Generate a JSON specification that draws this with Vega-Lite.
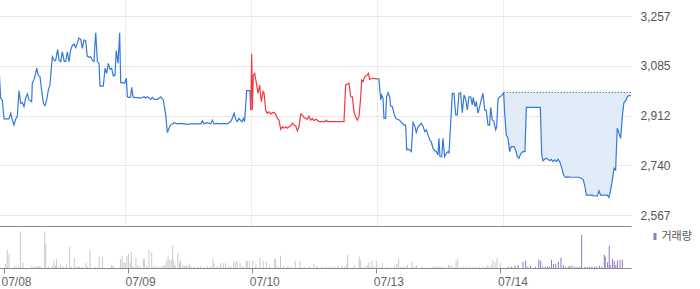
{
"$schema": "https://vega.github.io/schema/vega-lite/v6.json",
"padding": {"left": -4, "top": 0, "right": 0, "bottom": 0},
"spacing": 0,
"background": "white",
"resolve": {"scale": {"color": "independent", "x": "independent", "y": "independent"}, "legend": {"color": "independent"}, "axis": {"x": "independent", "y": "independent"}},
"config": {"view": {"stroke": null}, "font": "Liberation Sans"},
"datasets": {
"price": [
{"t":0,"p":3081,"s":"a"},{"t":0.013,"p":2972,"s":"a"},{"t":0.026,"p":2966,"s":"a"},{"t":0.040,"p":2900,"s":"a"},{"t":0.079,"p":2900,"s":"a"},{"t":0.093,"p":2920,"s":"a"},{"t":0.106,"p":2896,"s":"a"},{"t":0.119,"p":2879,"s":"a"},{"t":0.132,"p":2899,"s":"a"},{"t":0.145,"p":2908,"s":"a"},{"t":0.159,"p":2998,"s":"a"},{"t":0.172,"p":2954,"s":"a"},{"t":0.185,"p":2957,"s":"a"},{"t":0.198,"p":2943,"s":"a"},{"t":0.211,"p":2972,"s":"a"},{"t":0.225,"p":2987,"s":"a"},{"t":0.238,"p":2966,"s":"a"},{"t":0.251,"p":2963,"s":"a"},{"t":0.259,"p":2960,"s":"a"},{"t":0.264,"p":3024,"s":"a"},{"t":0.278,"p":3037,"s":"a"},{"t":0.291,"p":3058,"s":"a"},{"t":0.299,"p":3076,"s":"a"},{"t":0.312,"p":3050,"s":"a"},{"t":0.325,"p":3047,"s":"a"},{"t":0.338,"p":3000,"s":"a"},{"t":0.352,"p":2954,"s":"a"},{"t":0.365,"p":2946,"s":"a"},{"t":0.378,"p":2966,"s":"a"},{"t":0.391,"p":3000,"s":"a"},{"t":0.404,"p":3018,"s":"a"},{"t":0.423,"p":3116,"s":"a"},{"t":0.436,"p":3104,"s":"a"},{"t":0.449,"p":3102,"s":"a"},{"t":0.465,"p":3141,"s":"a"},{"t":0.476,"p":3104,"s":"a"},{"t":0.489,"p":3099,"s":"a"},{"t":0.502,"p":3133,"s":"a"},{"t":0.518,"p":3099,"s":"a"},{"t":0.529,"p":3100,"s":"a"},{"t":0.542,"p":3133,"s":"a"},{"t":0.555,"p":3099,"s":"a"},{"t":0.568,"p":3139,"s":"a"},{"t":0.582,"p":3155,"s":"a"},{"t":0.595,"p":3160,"s":"a"},{"t":0.608,"p":3147,"s":"a"},{"t":0.621,"p":3162,"s":"a"},{"t":0.634,"p":3180,"s":"a"},{"t":0.648,"p":3177,"s":"a"},{"t":0.661,"p":3145,"s":"a"},{"t":0.674,"p":3174,"s":"a"},{"t":0.687,"p":3171,"s":"a"},{"t":0.700,"p":3118,"s":"a"},{"t":0.714,"p":3114,"s":"a"},{"t":0.727,"p":3116,"s":"a"},{"t":0.740,"p":3104,"s":"a"},{"t":0.753,"p":3099,"s":"a"},{"t":0.767,"p":3199,"s":"a"},{"t":0.780,"p":3099,"s":"a"},{"t":0.793,"p":3093,"s":"a"},{"t":0.801,"p":3014,"s":"a"},{"t":0.827,"p":3014,"s":"a"},{"t":0.841,"p":3076,"s":"a"},{"t":0.854,"p":3058,"s":"a"},{"t":0.867,"p":3093,"s":"a"},{"t":0.880,"p":3072,"s":"a"},{"t":0.893,"p":3076,"s":"a"},{"t":0.907,"p":3049,"s":"a"},{"t":0.920,"p":3052,"s":"a"},{"t":0.930,"p":3137,"s":"a"},{"t":0.944,"p":3093,"s":"a"},{"t":0.957,"p":3199,"s":"a"},{"t":0.965,"p":3026,"s":"a"},{"t":0.983,"p":3026,"s":"a"},{"t":0.997,"p":3024,"s":"a"},{"t":1.010,"p":3041,"s":"a"},{"t":1.018,"p":2977,"s":"a"},{"t":1.031,"p":2974,"s":"a"},{"t":1.044,"p":2977,"s":"a"},{"t":1.052,"p":3010,"s":"a"},{"t":1.063,"p":2977,"s":"a"},{"t":1.076,"p":2974,"s":"a"},{"t":1.097,"p":2974,"s":"a"},{"t":1.124,"p":2972,"s":"a"},{"t":1.150,"p":2977,"s":"a"},{"t":1.163,"p":2972,"s":"a"},{"t":1.176,"p":2977,"s":"a"},{"t":1.190,"p":2974,"s":"a"},{"t":1.203,"p":2968,"s":"a"},{"t":1.216,"p":2975,"s":"a"},{"t":1.229,"p":2968,"s":"a"},{"t":1.255,"p":2968,"s":"a"},{"t":1.269,"p":2972,"s":"a"},{"t":1.282,"p":2977,"s":"a"},{"t":1.303,"p":2966,"s":"a"},{"t":1.322,"p":2914,"s":"a"},{"t":1.335,"p":2853,"s":"a"},{"t":1.348,"p":2868,"s":"a"},{"t":1.362,"p":2879,"s":"a"},{"t":1.374,"p":2883,"s":"a"},{"t":1.388,"p":2887,"s":"a"},{"t":1.414,"p":2883,"s":"a"},{"t":1.441,"p":2885,"s":"a"},{"t":1.467,"p":2883,"s":"a"},{"t":1.493,"p":2881,"s":"a"},{"t":1.520,"p":2883,"s":"a"},{"t":1.560,"p":2883,"s":"a"},{"t":1.600,"p":2883,"s":"a"},{"t":1.612,"p":2894,"s":"a"},{"t":1.626,"p":2883,"s":"a"},{"t":1.652,"p":2887,"s":"a"},{"t":1.679,"p":2883,"s":"a"},{"t":1.692,"p":2896,"s":"a"},{"t":1.705,"p":2883,"s":"a"},{"t":1.731,"p":2885,"s":"a"},{"t":1.758,"p":2883,"s":"a"},{"t":1.784,"p":2885,"s":"a"},{"t":1.810,"p":2883,"s":"a"},{"t":1.837,"p":2891,"s":"a"},{"t":1.850,"p":2902,"s":"a"},{"t":1.864,"p":2920,"s":"a"},{"t":1.877,"p":2899,"s":"a"},{"t":1.890,"p":2891,"s":"a"},{"t":1.903,"p":2902,"s":"a"},{"t":1.917,"p":2894,"s":"a"},{"t":1.929,"p":2891,"s":"a"},{"t":1.937,"p":2902,"s":"a"},{"t":1.948,"p":2891,"s":"a"},{"t":1.964,"p":2998,"s":"a"},{"t":1.990,"p":2998,"s":"a"},{"t":1.996,"p":2931,"s":"a"},
{"t":1.996,"p":2931,"s":"b"},{"t":2.004,"p":3125,"s":"b"},{"t":2.009,"p":2931,"s":"b"},{"t":2.017,"p":3052,"s":"b"},{"t":2.028,"p":3058,"s":"b"},{"t":2.041,"p":3024,"s":"b"},{"t":2.054,"p":2989,"s":"b"},{"t":2.067,"p":3018,"s":"b"},{"t":2.080,"p":2960,"s":"b"},{"t":2.094,"p":2995,"s":"b"},{"t":2.102,"p":2989,"s":"b"},{"t":2.115,"p":2931,"s":"b"},{"t":2.128,"p":2920,"s":"b"},{"t":2.141,"p":2925,"s":"b"},{"t":2.155,"p":2917,"s":"b"},{"t":2.167,"p":2922,"s":"b"},{"t":2.181,"p":2923,"s":"b"},{"t":2.194,"p":2917,"s":"b"},{"t":2.207,"p":2902,"s":"b"},{"t":2.220,"p":2896,"s":"b"},{"t":2.234,"p":2864,"s":"b"},{"t":2.247,"p":2873,"s":"b"},{"t":2.260,"p":2868,"s":"b"},{"t":2.274,"p":2873,"s":"b"},{"t":2.286,"p":2868,"s":"b"},{"t":2.300,"p":2873,"s":"b"},{"t":2.313,"p":2876,"s":"b"},{"t":2.326,"p":2885,"s":"b"},{"t":2.339,"p":2879,"s":"b"},{"t":2.353,"p":2876,"s":"b"},{"t":2.366,"p":2859,"s":"b"},{"t":2.379,"p":2873,"s":"b"},{"t":2.393,"p":2917,"s":"b"},{"t":2.405,"p":2914,"s":"b"},{"t":2.419,"p":2905,"s":"b"},{"t":2.432,"p":2902,"s":"b"},{"t":2.445,"p":2899,"s":"b"},{"t":2.458,"p":2910,"s":"b"},{"t":2.472,"p":2896,"s":"b"},{"t":2.485,"p":2902,"s":"b"},{"t":2.498,"p":2894,"s":"b"},{"t":2.511,"p":2899,"s":"b"},{"t":2.524,"p":2896,"s":"b"},{"t":2.538,"p":2891,"s":"b"},{"t":2.585,"p":2891,"s":"b"},{"t":2.596,"p":2896,"s":"b"},{"t":2.606,"p":2891,"s":"b"},{"t":2.736,"p":2891,"s":"b"},{"t":2.749,"p":3018,"s":"b"},{"t":2.776,"p":3024,"s":"b"},{"t":2.789,"p":2977,"s":"b"},{"t":2.802,"p":2977,"s":"b"},{"t":2.815,"p":2925,"s":"b"},{"t":2.828,"p":2908,"s":"b"},{"t":2.842,"p":2896,"s":"b"},{"t":2.855,"p":2908,"s":"b"},{"t":2.868,"p":2972,"s":"b"},{"t":2.876,"p":3035,"s":"b"},{"t":2.887,"p":3029,"s":"b"},{"t":2.895,"p":3041,"s":"b"},{"t":2.908,"p":3049,"s":"b"},{"t":2.921,"p":3052,"s":"b"},{"t":2.929,"p":3058,"s":"b"},{"t":2.940,"p":3037,"s":"b"},{"t":2.961,"p":3041,"s":"b"},{"t":3.000,"p":3039,"s":"b"},
{"t":3.000,"p":3039,"s":"c"},{"t":3.013,"p":3039,"s":"c"},{"t":3.027,"p":2966,"s":"c"},{"t":3.035,"p":2983,"s":"c"},{"t":3.045,"p":2972,"s":"c"},{"t":3.053,"p":2902,"s":"c"},{"t":3.066,"p":2902,"s":"c"},{"t":3.074,"p":2977,"s":"c"},{"t":3.085,"p":2991,"s":"c"},{"t":3.098,"p":2977,"s":"c"},{"t":3.106,"p":2945,"s":"c"},{"t":3.119,"p":2943,"s":"c"},{"t":3.132,"p":2920,"s":"c"},{"t":3.146,"p":2902,"s":"c"},{"t":3.159,"p":2899,"s":"c"},{"t":3.172,"p":2897,"s":"c"},{"t":3.186,"p":2891,"s":"c"},{"t":3.198,"p":2885,"s":"c"},{"t":3.212,"p":2879,"s":"c"},{"t":3.225,"p":2879,"s":"c"},{"t":3.233,"p":2793,"s":"c"},{"t":3.243,"p":2795,"s":"c"},{"t":3.257,"p":2793,"s":"c"},{"t":3.270,"p":2787,"s":"c"},{"t":3.283,"p":2888,"s":"c"},{"t":3.297,"p":2876,"s":"c"},{"t":3.309,"p":2853,"s":"c"},{"t":3.323,"p":2873,"s":"c"},{"t":3.336,"p":2879,"s":"c"},{"t":3.349,"p":2885,"s":"c"},{"t":3.362,"p":2876,"s":"c"},{"t":3.376,"p":2856,"s":"c"},{"t":3.389,"p":2862,"s":"c"},{"t":3.402,"p":2845,"s":"c"},{"t":3.416,"p":2827,"s":"c"},{"t":3.428,"p":2821,"s":"c"},{"t":3.442,"p":2798,"s":"c"},{"t":3.455,"p":2790,"s":"c"},{"t":3.468,"p":2787,"s":"c"},{"t":3.481,"p":2775,"s":"c"},{"t":3.489,"p":2833,"s":"c"},{"t":3.497,"p":2769,"s":"c"},{"t":3.511,"p":2769,"s":"c"},{"t":3.521,"p":2833,"s":"c"},{"t":3.534,"p":2769,"s":"c"},{"t":3.547,"p":2781,"s":"c"},{"t":3.561,"p":2787,"s":"c"},{"t":3.569,"p":2783,"s":"c"},{"t":3.582,"p":2885,"s":"c"},{"t":3.595,"p":2989,"s":"c"},{"t":3.608,"p":2989,"s":"c"},{"t":3.622,"p":2914,"s":"c"},{"t":3.634,"p":2914,"s":"c"},{"t":3.648,"p":2989,"s":"c"},{"t":3.661,"p":2991,"s":"c"},{"t":3.674,"p":2922,"s":"c"},{"t":3.688,"p":2983,"s":"c"},{"t":3.701,"p":2968,"s":"c"},{"t":3.714,"p":2931,"s":"c"},{"t":3.727,"p":2977,"s":"c"},{"t":3.741,"p":2977,"s":"c"},{"t":3.753,"p":2949,"s":"c"},{"t":3.761,"p":2975,"s":"c"},{"t":3.775,"p":2943,"s":"c"},{"t":3.785,"p":2960,"s":"c"},{"t":3.799,"p":2920,"s":"c"},{"t":3.812,"p":2943,"s":"c"},{"t":3.825,"p":2968,"s":"c"},{"t":3.838,"p":2989,"s":"c"},{"t":3.852,"p":2931,"s":"c"},{"t":3.864,"p":2931,"s":"c"},{"t":3.878,"p":2879,"s":"c"},{"t":3.891,"p":2879,"s":"c"},{"t":3.899,"p":2940,"s":"c"},{"t":3.912,"p":2897,"s":"c"},{"t":3.925,"p":2891,"s":"c"},{"t":3.939,"p":2862,"s":"c"},{"t":3.947,"p":2873,"s":"c"},{"t":3.957,"p":2968,"s":"c"},{"t":3.971,"p":2977,"s":"c"},{"t":3.983,"p":2980,"s":"c"},{"t":3.999,"p":2989,"s":"c"},{"t":4.002,"p":2992,"s":"c"},{"t":4.010,"p":2920,"s":"c"},{"t":4.023,"p":2844,"s":"c"},{"t":4.036,"p":2833,"s":"c"},{"t":4.050,"p":2787,"s":"c"},{"t":4.063,"p":2804,"s":"c"},{"t":4.084,"p":2804,"s":"c"},{"t":4.098,"p":2792,"s":"c"},{"t":4.110,"p":2769,"s":"c"},{"t":4.124,"p":2764,"s":"c"},{"t":4.137,"p":2779,"s":"c"},{"t":4.155,"p":2787,"s":"c"},{"t":4.171,"p":2787,"s":"c"},{"t":4.182,"p":2940,"s":"c"},{"t":4.293,"p":2940,"s":"c"},{"t":4.304,"p":2775,"s":"c"},{"t":4.314,"p":2755,"s":"c"},{"t":4.327,"p":2760,"s":"c"},{"t":4.341,"p":2764,"s":"c"},{"t":4.354,"p":2760,"s":"c"},{"t":4.367,"p":2755,"s":"c"},{"t":4.380,"p":2760,"s":"c"},{"t":4.393,"p":2752,"s":"c"},{"t":4.407,"p":2758,"s":"c"},{"t":4.420,"p":2752,"s":"c"},{"t":4.433,"p":2760,"s":"c"},{"t":4.446,"p":2752,"s":"c"},{"t":4.460,"p":2735,"s":"c"},{"t":4.473,"p":2712,"s":"c"},{"t":4.486,"p":2700,"s":"c"},{"t":4.499,"p":2697,"s":"c"},{"t":4.512,"p":2700,"s":"c"},{"t":4.526,"p":2698,"s":"c"},{"t":4.600,"p":2698,"s":"c"},{"t":4.621,"p":2694,"s":"c"},{"t":4.634,"p":2688,"s":"c"},{"t":4.647,"p":2665,"s":"c"},{"t":4.658,"p":2636,"s":"c"},{"t":4.705,"p":2636,"s":"c"},{"t":4.719,"p":2633,"s":"c"},{"t":4.745,"p":2633,"s":"c"},{"t":4.758,"p":2651,"s":"c"},{"t":4.771,"p":2636,"s":"c"},{"t":4.824,"p":2636,"s":"c"},{"t":4.837,"p":2628,"s":"c"},{"t":4.851,"p":2654,"s":"c"},{"t":4.864,"p":2688,"s":"c"},{"t":4.877,"p":2729,"s":"c"},{"t":4.890,"p":2723,"s":"c"},{"t":4.903,"p":2868,"s":"c"},{"t":4.917,"p":2850,"s":"c"},{"t":4.930,"p":2833,"s":"c"},{"t":4.943,"p":2908,"s":"c"},{"t":4.956,"p":2957,"s":"c"},{"t":4.970,"p":2963,"s":"c"},{"t":4.983,"p":2977,"s":"c"},{"t":4.996,"p":2981,"s":"c"},{"t":5.012,"p":2981,"s":"c"}
],
"vol": [
{"t":0.013,"v":400,"c":"이전"},{"t":0.026,"v":1830,"c":"이전"},{"t":0.040,"v":1400,"c":"이전"},{"t":0.085,"v":230,"c":"이전"},{"t":0.100,"v":130,"c":"이전"},{"t":0.119,"v":130,"c":"이전"},{"t":0.132,"v":3630,"c":"이전"},{"t":0.153,"v":500,"c":"이전"},{"t":0.225,"v":230,"c":"이전"},{"t":0.243,"v":170,"c":"이전"},{"t":0.264,"v":170,"c":"이전"},{"t":0.278,"v":230,"c":"이전"},{"t":0.291,"v":170,"c":"이전"},{"t":0.328,"v":3630,"c":"이전"},{"t":0.336,"v":2400,"c":"이전"},{"t":0.357,"v":170,"c":"이전"},{"t":0.391,"v":170,"c":"이전"},{"t":0.402,"v":730,"c":"이전"},{"t":0.415,"v":230,"c":"이전"},{"t":0.423,"v":900,"c":"이전"},{"t":0.436,"v":130,"c":"이전"},{"t":0.455,"v":300,"c":"이전"},{"t":0.476,"v":170,"c":"이전"},{"t":0.502,"v":330,"c":"이전"},{"t":0.529,"v":2130,"c":"이전"},{"t":0.542,"v":130,"c":"이전"},{"t":0.566,"v":1030,"c":"이전"},{"t":0.582,"v":170,"c":"이전"},{"t":0.595,"v":130,"c":"이전"},{"t":0.608,"v":130,"c":"이전"},{"t":0.629,"v":130,"c":"이전"},{"t":0.661,"v":530,"c":"이전"},{"t":0.669,"v":170,"c":"이전"},{"t":0.693,"v":1830,"c":"이전"},{"t":0.740,"v":130,"c":"이전"},{"t":0.767,"v":1100,"c":"이전"},{"t":0.793,"v":1100,"c":"이전"},{"t":0.867,"v":300,"c":"이전"},{"t":0.878,"v":230,"c":"이전"},{"t":0.938,"v":900,"c":"이전"},{"t":0.952,"v":1230,"c":"이전"},{"t":0.965,"v":630,"c":"이전"},{"t":0.978,"v":500,"c":"이전"},{"t":0.991,"v":1230,"c":"이전"},{"t":1.004,"v":1430,"c":"이전"},{"t":1.018,"v":570,"c":"이전"},{"t":1.026,"v":1630,"c":"이전"},{"t":1.039,"v":230,"c":"이전"},{"t":1.063,"v":1030,"c":"이전"},{"t":1.079,"v":300,"c":"이전"},{"t":1.097,"v":170,"c":"이전"},{"t":1.123,"v":900,"c":"이전"},{"t":1.131,"v":900,"c":"이전"},{"t":1.150,"v":230,"c":"이전"},{"t":1.168,"v":1830,"c":"이전"},{"t":1.190,"v":1570,"c":"이전"},{"t":1.203,"v":170,"c":"이전"},{"t":1.221,"v":230,"c":"이전"},{"t":1.242,"v":170,"c":"이전"},{"t":1.264,"v":170,"c":"이전"},{"t":1.282,"v":230,"c":"이전"},{"t":1.295,"v":300,"c":"이전"},{"t":1.308,"v":730,"c":"이전"},{"t":1.322,"v":1170,"c":"이전"},{"t":1.335,"v":800,"c":"이전"},{"t":1.348,"v":800,"c":"이전"},{"t":1.359,"v":2230,"c":"이전"},{"t":1.369,"v":730,"c":"이전"},{"t":1.380,"v":300,"c":"이전"},{"t":1.401,"v":1530,"c":"이전"},{"t":1.414,"v":500,"c":"이전"},{"t":1.422,"v":830,"c":"이전"},{"t":1.441,"v":300,"c":"이전"},{"t":1.454,"v":170,"c":"이전"},{"t":1.467,"v":300,"c":"이전"},{"t":1.480,"v":170,"c":"이전"},{"t":1.494,"v":430,"c":"이전"},{"t":1.507,"v":170,"c":"이전"},{"t":1.533,"v":170,"c":"이전"},{"t":1.560,"v":130,"c":"이전"},{"t":1.586,"v":170,"c":"이전"},{"t":1.613,"v":130,"c":"이전"},{"t":1.639,"v":170,"c":"이전"},{"t":1.665,"v":130,"c":"이전"},{"t":1.684,"v":930,"c":"이전"},{"t":1.692,"v":470,"c":"이전"},{"t":1.718,"v":170,"c":"이전"},{"t":1.745,"v":470,"c":"이전"},{"t":1.766,"v":470,"c":"이전"},{"t":1.784,"v":470,"c":"이전"},{"t":1.811,"v":170,"c":"이전"},{"t":1.829,"v":170,"c":"이전"},{"t":1.850,"v":730,"c":"이전"},{"t":1.864,"v":570,"c":"이전"},{"t":1.877,"v":730,"c":"이전"},{"t":1.903,"v":500,"c":"이전"},{"t":1.924,"v":170,"c":"이전"},{"t":1.951,"v":730,"c":"이전"},{"t":1.961,"v":730,"c":"이전"},{"t":1.977,"v":730,"c":"이전"},{"t":2.004,"v":730,"c":"이전"},{"t":2.030,"v":430,"c":"이전"},{"t":2.062,"v":1030,"c":"이전"},{"t":2.088,"v":730,"c":"이전"},{"t":2.115,"v":630,"c":"이전"},{"t":2.141,"v":170,"c":"이전"},{"t":2.181,"v":970,"c":"이전"},{"t":2.189,"v":830,"c":"이전"},{"t":2.207,"v":170,"c":"이전"},{"t":2.228,"v":1230,"c":"이전"},{"t":2.252,"v":170,"c":"이전"},{"t":2.287,"v":170,"c":"이전"},{"t":2.313,"v":130,"c":"이전"},{"t":2.347,"v":730,"c":"이전"},{"t":2.387,"v":730,"c":"이전"},{"t":2.419,"v":130,"c":"이전"},{"t":2.458,"v":170,"c":"이전"},{"t":2.498,"v":400,"c":"이전"},{"t":2.524,"v":230,"c":"이전"},{"t":2.564,"v":130,"c":"이전"},{"t":2.596,"v":130,"c":"이전"},{"t":2.617,"v":130,"c":"이전"},{"t":2.643,"v":130,"c":"이전"},{"t":2.665,"v":130,"c":"이전"},{"t":2.691,"v":230,"c":"이전"},{"t":2.723,"v":230,"c":"이전"},{"t":2.744,"v":130,"c":"이전"},{"t":2.762,"v":400,"c":"이전"},{"t":2.770,"v":1330,"c":"이전"},{"t":2.823,"v":300,"c":"이전"},{"t":2.863,"v":1130,"c":"이전"},{"t":2.871,"v":800,"c":"이전"},{"t":2.887,"v":130,"c":"이전"},{"t":2.908,"v":130,"c":"이전"},{"t":2.926,"v":300,"c":"이전"},{"t":2.940,"v":570,"c":"이전"},{"t":2.952,"v":130,"c":"이전"},{"t":2.966,"v":730,"c":"이전"},{"t":2.982,"v":130,"c":"이전"},{"t":3.000,"v":730,"c":"이전"},{"t":3.021,"v":130,"c":"이전"},{"t":3.048,"v":500,"c":"이전"},{"t":3.085,"v":130,"c":"이전"},{"t":3.146,"v":230,"c":"이전"},{"t":3.166,"v":400,"c":"이전"},{"t":3.180,"v":900,"c":"이전"},{"t":3.198,"v":130,"c":"이전"},{"t":3.220,"v":130,"c":"이전"},{"t":3.238,"v":130,"c":"이전"},{"t":3.251,"v":300,"c":"이전"},{"t":3.286,"v":630,"c":"이전"},{"t":3.305,"v":130,"c":"이전"},{"t":3.323,"v":300,"c":"이전"},{"t":3.370,"v":130,"c":"이전"},{"t":3.450,"v":130,"c":"이전"},{"t":3.468,"v":170,"c":"이전"},{"t":3.489,"v":230,"c":"이전"},{"t":3.511,"v":130,"c":"이전"},{"t":3.529,"v":130,"c":"이전"},{"t":3.555,"v":130,"c":"이전"},{"t":3.582,"v":300,"c":"이전"},{"t":3.595,"v":300,"c":"이전"},{"t":3.616,"v":230,"c":"이전"},{"t":3.642,"v":730,"c":"이전"},{"t":3.656,"v":900,"c":"이전"},{"t":3.680,"v":130,"c":"이전"},{"t":3.701,"v":130,"c":"이전"},{"t":3.727,"v":130,"c":"이전"},{"t":3.753,"v":130,"c":"이전"},{"t":3.780,"v":130,"c":"이전"},{"t":3.801,"v":130,"c":"이전"},{"t":3.833,"v":130,"c":"이전"},{"t":3.860,"v":130,"c":"이전"},{"t":3.886,"v":130,"c":"이전"},{"t":3.899,"v":300,"c":"이전"},{"t":3.925,"v":300,"c":"이전"},{"t":3.939,"v":770,"c":"이전"},{"t":3.957,"v":570,"c":"이전"},{"t":3.973,"v":1030,"c":"이전"},{"t":3.999,"v":500,"c":"이전"},
{"t":4.063,"v":130,"c":"거래량"},{"t":4.090,"v":130,"c":"거래량"},{"t":4.118,"v":230,"c":"거래량"},{"t":4.142,"v":300,"c":"거래량"},{"t":4.182,"v":630,"c":"거래량"},{"t":4.203,"v":730,"c":"거래량"},{"t":4.221,"v":130,"c":"거래량"},{"t":4.243,"v":230,"c":"거래량"},{"t":4.282,"v":130,"c":"거래량"},{"t":4.309,"v":830,"c":"거래량"},{"t":4.324,"v":730,"c":"거래량"},{"t":4.340,"v":130,"c":"거래량"},{"t":4.362,"v":130,"c":"거래량"},{"t":4.380,"v":130,"c":"거래량"},{"t":4.396,"v":130,"c":"거래량"},{"t":4.412,"v":830,"c":"거래량"},{"t":4.428,"v":400,"c":"거래량"},{"t":4.446,"v":400,"c":"거래량"},{"t":4.467,"v":630,"c":"거래량"},{"t":4.488,"v":1030,"c":"거래량"},{"t":4.507,"v":300,"c":"거래량"},{"t":4.526,"v":130,"c":"거래량"},{"t":4.547,"v":130,"c":"거래량"},{"t":4.560,"v":230,"c":"거래량"},{"t":4.578,"v":230,"c":"거래량"},{"t":4.600,"v":130,"c":"거래량"},{"t":4.618,"v":130,"c":"거래량"},{"t":4.639,"v":130,"c":"거래량"},{"t":4.655,"v":3330,"c":"거래량"},{"t":4.679,"v":130,"c":"거래량"},{"t":4.700,"v":130,"c":"거래량"},{"t":4.719,"v":130,"c":"거래량"},{"t":4.737,"v":130,"c":"거래량"},{"t":4.758,"v":130,"c":"거래량"},{"t":4.776,"v":130,"c":"거래량"},{"t":4.798,"v":230,"c":"거래량"},{"t":4.816,"v":130,"c":"거래량"},{"t":4.837,"v":1330,"c":"거래량"},{"t":4.845,"v":1130,"c":"거래량"},{"t":4.864,"v":570,"c":"거래량"},{"t":4.877,"v":2230,"c":"거래량"},{"t":4.885,"v":300,"c":"거래량"},{"t":4.903,"v":900,"c":"거래량"},{"t":4.917,"v":730,"c":"거래량"},{"t":4.930,"v":300,"c":"거래량"},{"t":4.943,"v":730,"c":"거래량"},{"t":4.964,"v":830,"c":"거래량"},{"t":4.983,"v":830,"c":"거래량"}
]
},
"vconcat": [
{
"width": 632,
"height": 226,
"layer": [
{
"data": {"name": "price"},
"transform": [{"filter": "datum.t >= 4"}],
"mark": {"type": "area", "color": "#e2ebf8"},
"encoding": {
"x": {"field": "t", "type": "quantitative", "scale": {"domain": [0, 5.012], "nice": false},
"axis": {"values": [0, 1, 2, 3, 4], "labels": false, "ticks": false, "domain": true, "domainColor": "#8a8a8a", "grid": true, "gridColor": "#ececec", "title": null}},
"y": {"field": "p", "type": "quantitative", "scale": {"domain": [2528.9, 3312.5], "nice": false, "zero": false},
"axis": {"orient": "right", "values": [2567, 2739.5, 2912, 3084.5, 3257], "format": ",.0f", "domain": false, "ticks": false, "labelPadding": 9, "labelColor": "#555555", "labelFontSize": 12, "labelFont": "Liberation Sans", "grid": true, "gridColor": "#e6e6e6", "title": null}},
"y2": {"datum": 2992}
}
},
{
"data": {"name": "price"},
"transform": [{"filter": "datum.t >= 4"}, {"aggregate": [{"op": "min", "field": "t", "as": "t0"}, {"op": "max", "field": "t", "as": "t1"}]}],
"mark": {"type": "rule", "color": "#333333", "strokeDash": [1, 2], "strokeWidth": 1},
"encoding": {
"x": {"field": "t0", "type": "quantitative"},
"x2": {"field": "t1"},
"y": {"datum": 2992, "type": "quantitative"}
}
},
{
"data": {"name": "price"},
"mark": {"type": "line", "strokeWidth": 1.2},
"encoding": {
"x": {"field": "t", "type": "quantitative"},
"y": {"field": "p", "type": "quantitative"},
"color": {"field": "s", "type": "nominal", "scale": {"domain": ["a", "b", "c"], "range": ["#3478db", "#f5383c", "#3478db"]}, "legend": null}
}
}
]
},
{
"width": 632,
"height": 42,
"data": {"name": "vol"},
"mark": {"type": "bar", "width": 1},
"encoding": {
"x": {"field": "t", "type": "quantitative", "scale": {"domain": [0, 5.012], "nice": false},
"axis": {"values": [0, 1, 2, 3, 4], "labelExpr": "['07/08','07/09','07/10','07/13','07/14'][datum.value]", "labelAlign": "left", "labelFlush": false, "labelOffset": -3, "labelBaseline": "top", "grid": false, "domainColor": "#8a8a8a", "tickColor": "#8a8a8a", "tickSize": 5, "labelPadding": 3, "labelColor": "#666666", "labelFontSize": 12, "labelFont": "Liberation Sans", "title": null}},
"y": {"field": "v", "type": "quantitative", "scale": {"domain": [0, 4200]}, "axis": null},
"color": {"field": "c", "type": "nominal", "scale": {"domain": ["거래량", "이전"], "range": ["#9278c4", "#c9c9cf"]},
"legend": {"values": ["거래량"], "orient": "none", "legendX": 650.5, "legendY": 5, "title": null, "symbolType": "M-0.43,-1H0.43V1H-0.43Z", "symbolSize": 49, "symbolStrokeWidth": 0, "labelOffset": 1, "labelFontSize": 11, "labelColor": "#555555", "labelFont": "Noto Sans CJK KR"}}
}
}
]
}
